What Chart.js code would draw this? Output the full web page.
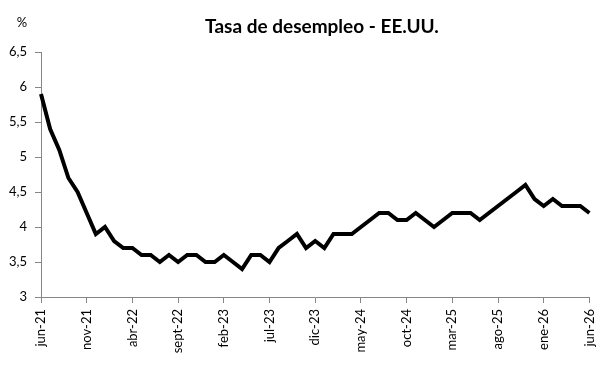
<!DOCTYPE html>
<html>
<head>
<meta charset="utf-8">
<script src="https://cdn.jsdelivr.net/npm/chart.js@4.4.1/dist/chart.umd.min.js"></script>
<style>
  body { margin: 0; background: #fff; }
  #grafico { display: block; }
</style>
</head>
<body>
<canvas id="grafico" width="611" height="366"></canvas>
<script>
// meses del año
const meses = ["ene", "feb", "mar", "abr", "may", "jun", "jul", "ago", "sept", "oct", "nov", "dic"];
const mesInicio = 5;   // jun
const anioInicio = 21; // 2021
const totalMeses = 61; // jun-21 a jun-26

// tasa de desempleo (%)
const desempleo = [
  5.9, 5.4, 5.1, 4.7, 4.5, 4.2, 3.9, 4.0, 3.8, 3.7,
  3.7, 3.6, 3.6, 3.5, 3.6, 3.5, 3.6, 3.6, 3.5, 3.5,
  3.6, 3.5, 3.4, 3.6, 3.6, 3.5, 3.7, 3.8, 3.9, 3.7,
  3.8, 3.7, 3.9, 3.9, 3.9, 4.0, 4.1, 4.2, 4.2, 4.1,
  4.1, 4.2, 4.1, 4.0, 4.1, 4.2, 4.2, 4.2, 4.1, 4.2,
  4.3, 4.4, 4.5, 4.6, 4.4, 4.3, 4.4, 4.3, 4.3, 4.3,
  4.2
];

const yMin = 3;
const yMax = 6.5;
const yPaso = 0.5;
const cadaCuantos = 5;

const titulo = "Tasa de desempleo - EE.UU.";

// etiquetas "jun-21", "jul-21"...
const etiquetas = [];
for (let i = 0; i < totalMeses; i++) {
  const m = mesInicio + i;
  etiquetas.push(meses[m % 12] + "-" + (anioInicio + Math.floor(m / 12)));
}

const gris = "#868686";
const fuente = "Lato, 'Open Sans', sans-serif";

// titulo y el "%" arriba del eje
const textos = {
  id: "textos",
  afterDraw(chart) {
    const ctx = chart.ctx;
    ctx.save();
    ctx.fillStyle = "#000";
    ctx.textAlign = "center";
    ctx.textBaseline = "middle";
    ctx.font = "bold 19px " + fuente;
    ctx.fillText(titulo, 322, 27);
    ctx.font = "13px " + fuente;
    ctx.fillText("%", 22, 23);
    ctx.restore();
  }
};

new Chart(document.getElementById("grafico"), {
  type: "line",
  data: {
    labels: etiquetas,
    datasets: [
      {
        label: "Tasa de desempleo",
        data: desempleo,
        borderColor: "#000",
        borderWidth: 4,
        pointRadius: 0,
        tension: 0,
        borderJoinStyle: "miter"
      }
    ]
  },
  options: {
    responsive: false,
    animation: false,
    layout: { padding: { left: 0, right: 17, top: 52, bottom: 0 } },
    plugins: {
      legend: { display: false },
      tooltip: { enabled: false },
      title: { display: false }
    },
    scales: {
      x: {
        type: "category",
        offset: false,
        afterBuildTicks: (s) => {
          s.ticks = s.ticks.filter((t) => t.value % cadaCuantos === 0);
        },
        afterFit: (s) => { s.height = 69; },
        ticks: {
          autoSkip: false,
          minRotation: 90,
          maxRotation: 90,
          padding: 6,
          color: "#000",
          font: { family: fuente, size: 13 },
          callback: function (value) { return this.getLabelForValue(value); }
        },
        grid: { drawOnChartArea: false, tickLength: 6, color: gris },
        border: { color: gris, width: 1 }
      },
      y: {
        min: yMin,
        max: yMax,
        afterFit: (s) => { s.width = 41; },
        ticks: {
          stepSize: yPaso,
          padding: 8,
          color: "#000",
          font: { family: fuente, size: 13 },
          callback: (v) => String(v).replace(".", ",")
        },
        grid: { drawOnChartArea: false, tickLength: 6, color: gris },
        border: { color: gris, width: 1 }
      }
    }
  },
  plugins: [textos]
});
</script>
</body>
</html>
